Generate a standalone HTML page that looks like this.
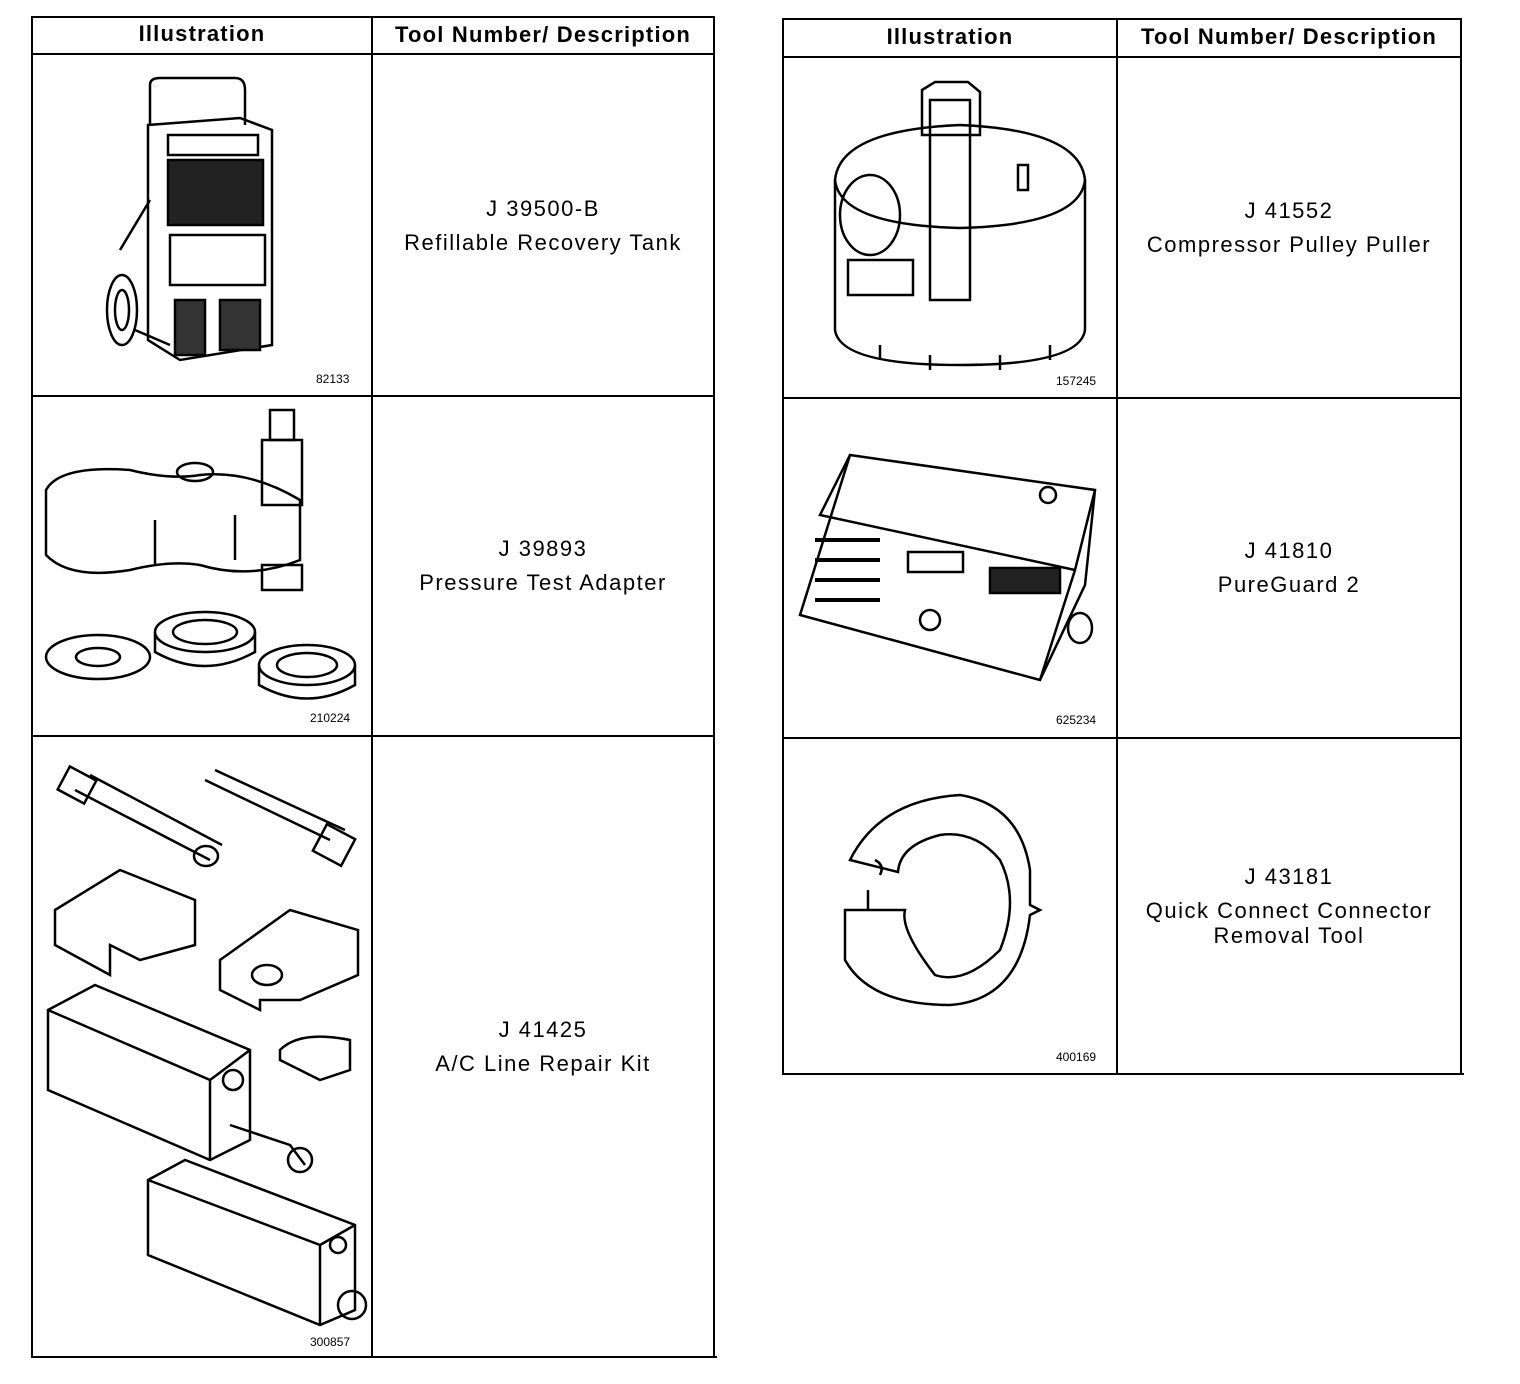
<!DOCTYPE html>
<html><head><meta charset="utf-8"><style>
body{margin:0;background:#fff;width:1520px;height:1384px;position:relative;overflow:hidden;font-family:"Liberation Sans",Arial,sans-serif;color:#000}
.l{position:absolute;background:#000}
.h{position:absolute;font-weight:bold;font-size:22px;letter-spacing:1.2px;text-align:center}
.d{position:absolute;font-size:22px;letter-spacing:1.5px;text-align:center;line-height:34px}
.n{position:absolute;font-size:12px}
svg{position:absolute;left:0;top:0}
</style></head><body>
<div class="l" style="left:31px;top:16px;width:684px;height:2px"></div>
<div class="l" style="left:31px;top:53px;width:684px;height:2px"></div>
<div class="l" style="left:31px;top:395px;width:684px;height:2px"></div>
<div class="l" style="left:31px;top:735px;width:684px;height:2px"></div>
<div class="l" style="left:31px;top:1356px;width:686px;height:2px"></div>
<div class="l" style="left:31px;top:16px;width:2px;height:1342px"></div>
<div class="l" style="left:371px;top:16px;width:2px;height:1342px"></div>
<div class="l" style="left:713px;top:16px;width:2px;height:1342px"></div>
<div class="h" style="left:33px;top:21px;width:338px">Illustration</div>
<div class="h" style="left:373px;top:22px;width:340px">Tool Number/ Description</div>
<div class="d" style="left:373px;top:192px;width:340px">J 39500-B<br>Refillable Recovery Tank</div>
<div class="d" style="left:373px;top:532px;width:340px">J 39893<br>Pressure Test Adapter</div>
<div class="d" style="left:373px;top:1013px;width:340px">J 41425<br>A/C Line Repair Kit</div>
<div class="n" style="left:316px;top:372px">82133</div>
<div class="n" style="left:310px;top:711px">210224</div>
<div class="n" style="left:310px;top:1335px">300857</div>
<div class="l" style="left:782px;top:18px;width:680px;height:2px"></div>
<div class="l" style="left:782px;top:56px;width:680px;height:2px"></div>
<div class="l" style="left:782px;top:397px;width:680px;height:2px"></div>
<div class="l" style="left:782px;top:737px;width:680px;height:2px"></div>
<div class="l" style="left:782px;top:1073px;width:682px;height:2px"></div>
<div class="l" style="left:782px;top:18px;width:2px;height:1057px"></div>
<div class="l" style="left:1116px;top:18px;width:2px;height:1057px"></div>
<div class="l" style="left:1460px;top:18px;width:2px;height:1057px"></div>
<div class="h" style="left:784px;top:24px;width:332px">Illustration</div>
<div class="h" style="left:1118px;top:24px;width:342px">Tool Number/ Description</div>
<div class="d" style="left:1118px;top:194px;width:342px">J 41552<br>Compressor Pulley Puller</div>
<div class="d" style="left:1118px;top:534px;width:342px">J 41810<br>PureGuard 2</div>
<div class="d" style="left:1118px;top:862px;width:342px;line-height:30px">J 43181</div>
<div class="d" style="left:1118px;top:898px;width:342px;line-height:25px">Quick Connect Connector<br>Removal Tool</div>
<div class="n" style="left:1056px;top:374px">157245</div>
<div class="n" style="left:1056px;top:713px">625234</div>
<div class="n" style="left:1056px;top:1050px">400169</div>
<svg width="1520" height="1384" fill="none" stroke="#000" stroke-width="2.5">
<path d="M150 125 V85 Q150 78 160 78 H235 Q245 78 245 90 V125"/>
<path d="M148 125 L240 118 L272 130 L272 345 L180 360 L148 340 Z"/>
<rect x="168" y="135" width="90" height="20"/>
<rect x="168" y="160" width="95" height="65" fill="#222"/>
<rect x="170" y="235" width="95" height="50"/>
<rect x="175" y="300" width="30" height="55" fill="#333"/>
<rect x="220" y="300" width="40" height="50" fill="#333"/>
<ellipse cx="122" cy="310" rx="15" ry="35"/>
<ellipse cx="122" cy="310" rx="7" ry="20"/>
<path d="M120 250 L150 200 M135 330 L170 345"/>
<path d="M46 490 Q60 465 130 470 Q170 480 200 475 Q250 470 300 500 V560 Q250 580 200 565 Q170 560 130 570 Q70 580 46 555 Z"/>
<ellipse cx="195" cy="472" rx="18" ry="9"/>
<path d="M155 520 V565 M235 515 V560"/>
<rect x="262" y="440" width="40" height="65"/>
<rect x="270" y="410" width="24" height="30"/>
<rect x="262" y="565" width="40" height="25"/>
<ellipse cx="98" cy="657" rx="52" ry="22"/><ellipse cx="98" cy="657" rx="22" ry="9"/>
<ellipse cx="205" cy="632" rx="50" ry="20"/><ellipse cx="205" cy="632" rx="32" ry="12"/><path d="M155 632 V652 Q205 680 255 652 V632"/>
<ellipse cx="307" cy="665" rx="48" ry="20"/><ellipse cx="307" cy="665" rx="30" ry="12"/><path d="M259 665 V685 Q307 712 355 685 V665"/>
<path d="M75 790 L210 860 M90 775 L222 845"/><rect x="62" y="772" width="30" height="26" transform="rotate(28 77 785)"/>
<ellipse cx="206" cy="856" rx="12" ry="10"/>
<path d="M205 780 L330 840 M215 770 L345 830"/><rect x="318" y="830" width="32" height="30" transform="rotate(28 334 845)"/>
<path d="M55 910 L120 870 L195 900 V945 L140 960 L110 945 V975 L55 945 Z"/>
<path d="M220 960 L290 910 L358 930 V975 L300 1000 L260 1000 V1010 L220 990 Z"/>
<ellipse cx="267" cy="975" rx="15" ry="10"/>
<path d="M48 1010 L95 985 L250 1050 V1140 L210 1160 L48 1090 Z M48 1010 L210 1080 V1160 M210 1080 L250 1050"/>
<circle cx="233" cy="1080" r="10"/>
<path d="M230 1125 L290 1145 L305 1165"/><circle cx="300" cy="1160" r="12"/>
<path d="M280 1050 Q300 1030 350 1040 V1070 L320 1080 L280 1060 Z"/>
<path d="M148 1180 L185 1160 L355 1225 V1310 L320 1325 L148 1255 Z M148 1180 L320 1245 V1325 M320 1245 L355 1225"/>
<circle cx="338" cy="1245" r="8"/><circle cx="352" cy="1305" r="14"/>
<path d="M835 180 Q840 130 960 125 Q1080 130 1085 180 V330 Q1080 365 960 365 Q840 365 835 330 Z"/>
<path d="M835 180 Q840 225 960 228 Q1080 225 1085 180"/>
<rect x="930" y="100" width="40" height="200"/>
<path d="M922 90 L935 82 H968 L980 92 V135 H922 Z"/>
<ellipse cx="870" cy="215" rx="30" ry="40"/>
<rect x="848" y="260" width="65" height="35"/>
<rect x="1018" y="165" width="10" height="25"/>
<path d="M880 345 V360 M930 355 V370 M1000 355 V370 M1050 345 V360"/>
<path d="M850 455 L1095 490 L1085 585 L1040 680 L800 615 Z"/>
<path d="M850 455 L820 515 L1075 570 L1095 490 M1075 570 L1040 680"/>
<rect x="908" y="552" width="55" height="20"/>
<rect x="990" y="568" width="70" height="25" fill="#222"/>
<path d="M815 540 H880 M815 560 H880 M815 580 H880 M815 600 H880" stroke-width="4"/>
<circle cx="930" cy="620" r="10"/><circle cx="1048" cy="495" r="8"/>
<ellipse cx="1080" cy="628" rx="12" ry="15"/>
<path d="M850 860 Q880 800 960 795 Q1020 805 1030 870 V905 L1040 910 L1030 915 Q1020 1000 950 1005 Q870 1005 845 960 V910 H905 Q900 930 935 975 Q965 985 1000 950 Q1020 900 1000 860 Q975 830 940 835 Q900 845 898 872 Z"/>
<path d="M868 890 V910 M875 860 Q885 865 880 875"/>
</svg>
</body></html>
